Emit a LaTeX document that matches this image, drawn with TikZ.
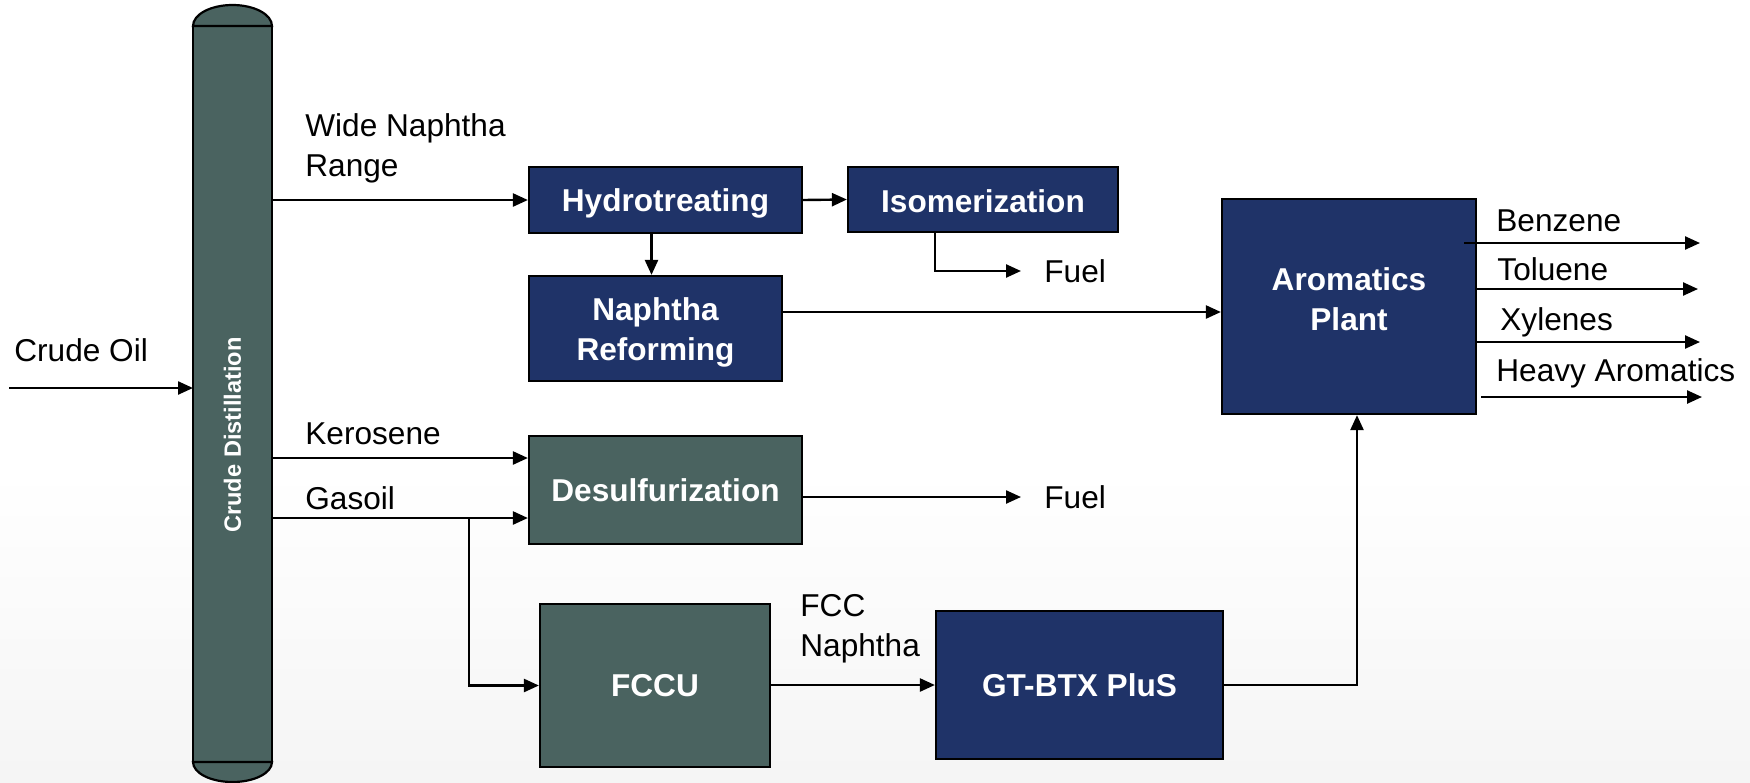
\documentclass[tikz,border=0pt]{standalone}
\usepackage{fontspec}
\setmainfont{Liberation Sans}
\usetikzlibrary{arrows.meta,calc}
\definecolor{navy}{RGB}{31,51,104}
\definecolor{slate}{RGB}{74,99,96}
\newcommand{\shiftbox}[2]{\raisebox{#1}[\height][\depth]{#2}}
\newcommand{\twoline}[3]{\raisebox{#1}[\height][\depth]{\begin{tabular}{@{}c@{}}#2\\#3\end{tabular}}}
\begin{document}
\begin{tikzpicture}[x=0.5pt,y=-0.5pt,
  lbl/.style={font=\fontsize{15.8}{20}\selectfont, inner sep=0pt, anchor=west, align=left},
  unit/.style={draw=black, line width=1.1pt, font=\bfseries\fontsize{15.8}{20}\selectfont, text=white, align=center, inner sep=0pt},
  bluebox/.style={unit, fill=navy},
  greenbox/.style={unit, fill=slate},
  flow/.style={line width=1.2pt, -{Triangle[length=7.5pt,width=6.5pt]}},
  plainline/.style={line width=1.2pt}]
\useasboundingbox (0,0) rectangle (1750,782);
\fill[top color=white, bottom color=black!4, draw=none] (0,470) rectangle (1750,782);

% column
\node[greenbox, outer sep=0pt, minimum width=39.5pt, minimum height=368pt] (col) at (232.5,394) {};
\draw[line width=1.1pt, fill=slate] (col.north west) arc[start angle=180, end angle=0, x radius=19.75pt, y radius=10.5pt] -- cycle;
\draw[line width=1.1pt, fill=slate] (col.south west) arc[start angle=180, end angle=360, x radius=19.75pt, y radius=10pt] -- cycle;
\node[text=white, font=\bfseries\fontsize{11.8}{14}\selectfont, rotate=90, inner sep=0pt] (coltxt) at (232.5,435) {Crude Distillation};

% units
\node[bluebox, minimum width=136.5pt, minimum height=33pt] (hydro) at (665.5,200) {\shiftbox{-1.6pt}{Hydrotreating}};
\node[bluebox, minimum width=135pt, minimum height=32.5pt] (iso) at (983,199.5) {\shiftbox{-0.6pt}{Isomerization}};
\node[bluebox, minimum width=126.5pt, minimum height=52.5pt] (reform) at (655.5,328.5) {\twoline{-2.2pt}{Naphtha}{Reforming}};
\node[bluebox, minimum width=127pt, minimum height=107.5pt] (arom) at (1349,306.5) {\twoline{2.2pt}{Aromatics}{Plant}};
\node[greenbox, minimum width=136.5pt, minimum height=54pt] (desulf) at (665.5,490) {Desulfurization};
\node[greenbox, minimum width=115pt, minimum height=81.5pt] (fccu) at (655,685.5) {FCCU};
\node[bluebox, minimum width=143.5pt, minimum height=74pt] (gtbtx) at (1079.5,685) {GT-BTX PluS};

% labels
\node[lbl] (crude) at (14,350) {Crude Oil};
\node[lbl] (wide) at (305,148) {Wide Naphtha\\Range};
\node[lbl] (kero) at (305,434) {Kerosene};
\node[lbl] (gasoil) at (305,498) {Gasoil};
\node[lbl] (fccn) at (800,629) {FCC\\Naphtha};
\node[lbl] (fuelA) at (1044,271) {Fuel};
\node[lbl] (fuelB) at (1044,497) {Fuel};
\node[lbl] (benz) at (1496,221) {Benzene};
\node[lbl] (tol) at (1497,269) {Toluene};
\node[lbl] (xyl) at (1500,322) {Xylenes};
\node[lbl] (heavy) at (1496,373) {Heavy Aromatics};

% coordinates
\coordinate (crudein) at (9,388);
\coordinate (split) at (469,518);
\coordinate (bzs) at (1464,243);
\coordinate (bze) at (1700,243);
\coordinate (tole) at (1698,289);
\coordinate (xyle) at (1700,342);
\coordinate (hve) at (1702,397);

% connectors
\draw[flow] (crudein) -- (col.west |- crudein);
\draw[flow] (col.east |- hydro.west) -- (hydro.west);
\draw[flow] (hydro.east) -- (iso.west);
\draw[flow] ([xshift=-7pt]hydro.south) -- ([xshift=-7pt]hydro.south |- reform.north);
\draw[flow] (935,0 |- iso.south) |- ([xshift=-11.5pt]fuelA.west);
\draw[flow] (reform.east |- 0,312) -- (arom.west |- 0,312);
\draw[flow] (col.east |- 0,458) -- (desulf.west |- 0,458);
\draw[flow] (col.east |- split) -- (desulf.west |- split);
\draw[flow] (split) |- (fccu.west);
\draw[flow] (desulf.east |- 0,497) -- ([xshift=-11.5pt]fuelB.west);
\draw[flow] (fccu.east |- gtbtx.west) -- (gtbtx.west);
\draw[flow] (gtbtx.east) -| ([xshift=4pt]arom.south);
\draw[flow] (bzs) -- (bze);
\draw[flow] (arom.east |- tole) -- (tole);
\draw[flow] (arom.east |- xyle) -- (xyle);
\draw[flow] ([xshift=2pt]arom.east |- hve) -- (hve);
\end{tikzpicture}
\end{document}
